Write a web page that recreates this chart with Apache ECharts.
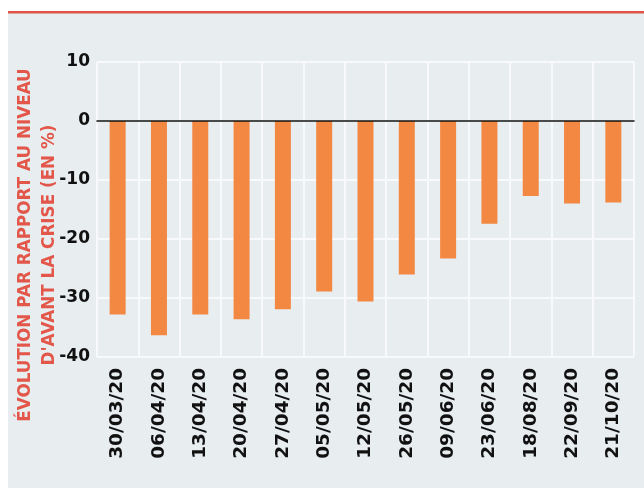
<!DOCTYPE html>
<html><head><meta charset="utf-8">
<script src="https://cdn.jsdelivr.net/npm/echarts@6/dist/echarts.min.js"></script>
<style>html,body{margin:0;padding:0;background:#fff}#c{width:644px;height:488px}</style>
</head><body><div id="c"></div>
<script>
const categories = ['30/03/20','06/04/20','13/04/20','20/04/20','27/04/20','05/05/20','12/05/20','26/05/20','09/06/20','23/06/20','18/08/20','22/09/20','21/10/20'];
const values = [-32.8,-36.3,-32.8,-33.6,-31.9,-28.9,-30.6,-26.0,-23.3,-17.4,-12.7,-14.0,-13.8];
const yTicks = [10,0,-10,-20,-30,-40];
const yName = "ÉVOLUTION PAR RAPPORT AU NIVEAU\nD'AVANT LA CRISE (EN %)";

const chart = echarts.init(document.getElementById('c'), null, {renderer:'canvas'});
const font = '"DejaVu Sans", sans-serif';
chart.setOption({
  animation: false,
  graphic: [
    {type:'rect', shape:{x:8,y:13,width:636,height:475}, style:{fill:'#e8edf0'}, z:-10},
    {type:'rect', shape:{x:8,y:11,width:636,height:2.5}, style:{fill:'#e0554a'}, z:-10},
    {type:'text', x:38, y:245, rotation:Math.PI/2,
      style:{text:yName, fill:'#e3574a', font:'bold 16.8px '+font, align:'center', verticalAlign:'middle', lineHeight:24}}
  ],
  grid:{left:97, right:10, top:62, bottom:131, containLabel:false},
  xAxis:{
    type:'category', data:categories,
    axisLine:{show:true, onZero:true, lineStyle:{color:'#111', width:1.5}},
    axisTick:{show:false},
    splitLine:{show:true, interval:0, lineStyle:{color:'#f7f9fa', width:2}},
    axisLabel:{interval:0, rotate:90, margin:11, color:'#111', fontWeight:'bold', fontSize:18.5, fontFamily:font},
    z:5
  },
  yAxis:{
    type:'value', min:-40, max:10, interval:10,
    axisLine:{show:false}, axisTick:{show:false},
    splitLine:{show:true, lineStyle:{color:'#f7f9fa', width:2}},
    axisLabel:{margin:7, color:'#111', fontWeight:'bold', fontSize:17, fontFamily:font,
      formatter: v => yTicks.includes(v) ? String(v) : ''}
  },
  series:[{type:'bar', data:values, barWidth:16, itemStyle:{color:'#f38843'}}]
});
</script></body></html>
